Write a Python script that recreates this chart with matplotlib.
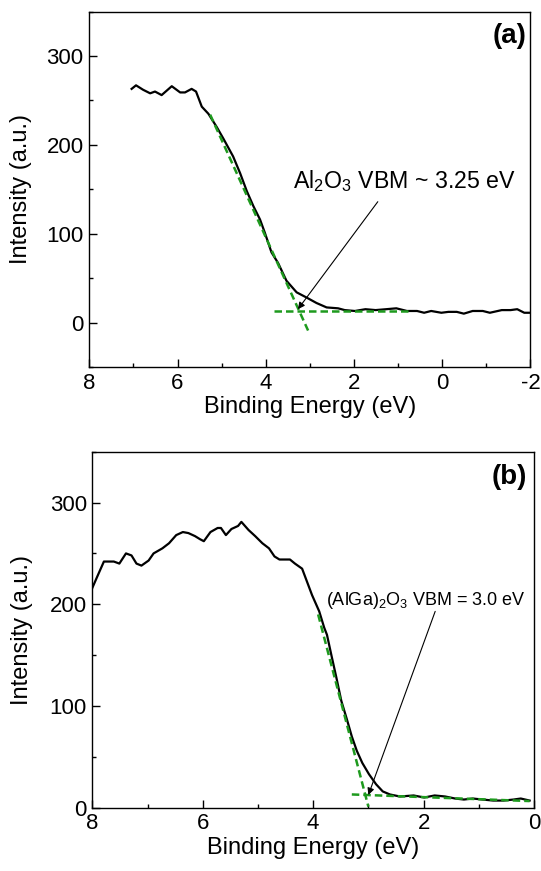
import numpy as np
import matplotlib
matplotlib.use("Agg")
import matplotlib.pyplot as plt
from matplotlib.ticker import MultipleLocator

plt.rcParams['font.family'] = ['Liberation Sans', 'DejaVu Sans']
plt.rcParams['mathtext.fontset'] = 'custom'
plt.rcParams['mathtext.rm'] = 'Liberation Sans'
plt.rcParams['mathtext.it'] = 'Liberation Sans'
plt.rcParams['axes.unicode_minus'] = False

# panel (a) - Al2O3 valence band spectrum
xa = [7.04, 6.94, 6.78, 6.62, 6.51, 6.36, 6.13, 5.94, 5.83, 5.68, 5.58, 5.45, 5.30, 5.11, 4.96,
      4.74, 4.58, 4.43, 4.28, 4.13, 4.02, 3.87, 3.72, 3.53, 3.30, 3.07, 2.85, 2.62, 2.36, 2.21,
      1.98, 1.74, 1.51, 1.27, 1.04, 0.80, 0.57, 0.41, 0.25, 0.02, -0.14, -0.33, -0.49, -0.69,
      -0.92, -1.08, -1.35, -1.55, -1.70, -1.86, -2.0]
ya = [263, 267, 262, 258, 260, 256, 266, 259, 259, 263, 260, 243, 235, 220, 207,
      187, 168, 148, 131, 116, 101, 79, 67, 47, 34, 28, 22, 17, 16, 14,
      13, 15, 14, 15, 16, 13, 13, 11, 13, 11, 12, 12, 10, 13,
      13, 11, 14, 14, 15, 11, 11]
# linear fits (a)
fit_a_slope_x = [5.26, 3.04]
fit_a_slope_y = [234, -9]
fit_a_base_x = [3.81, 0.68]
fit_a_base_y = [13, 13]

# panel (b) - (AlGa)2O3 valence band spectrum
xb = [8.0, 7.92, 7.79, 7.61, 7.51, 7.39, 7.29, 7.20, 7.11, 6.98, 6.89, 6.73, 6.61, 6.48, 6.36,
      6.26, 6.14, 6.05, 5.98, 5.86, 5.73, 5.67, 5.58, 5.48, 5.36, 5.30, 5.17, 5.05, 4.92, 4.80,
      4.70, 4.61, 4.42, 4.33, 4.20, 4.11, 4.02, 3.89, 3.80, 3.75, 3.67, 3.58, 3.49, 3.39, 3.30,
      3.21, 3.11, 2.99, 2.86, 2.74, 2.61, 2.43, 2.18, 1.99, 1.80, 1.61, 1.43, 1.27, 1.11, 0.93,
      0.74, 0.55, 0.37, 0.24, 0.08]
yb = [216, 226, 242, 242, 240, 250, 248, 240, 238, 243, 250, 255, 260, 268, 271,
      270, 267, 264, 262, 271, 275, 275, 268, 274, 277, 281, 273, 267, 260, 255,
      247, 244, 244, 240, 235, 222, 209, 193, 177, 170, 150, 128, 105, 87, 70,
      56, 44, 33, 23, 16, 13, 11, 12, 10, 12, 11, 9, 8, 9, 8,
      7, 7, 8, 9, 7]
fit_b_slope_x = [3.91, 3.0]
fit_b_slope_y = [190, 1]
fit_b_base_x = [3.30, 0.08]
fit_b_base_y = [13, 6.5]

green = '#1e9a1e'
fs_tick = 16
fs_lab = 17

fig = plt.figure(figsize=(5.41, 8.71), dpi=100)
ax1 = fig.add_axes([0.165, 0.5787, 0.8155, 0.408])
ax2 = fig.add_axes([0.1706, 0.0727, 0.8165, 0.4087])

def style(ax):
    for s in ax.spines.values():
        s.set_linewidth(1.0)
    ax.tick_params(which='both', direction='in', top=False, right=False,
                   labelsize=fs_tick, width=1.0, pad=4)
    ax.tick_params(which='major', length=6)
    ax.tick_params(which='minor', length=3)
    ax.xaxis.set_major_locator(MultipleLocator(2))
    ax.xaxis.set_minor_locator(MultipleLocator(1))
    ax.yaxis.set_major_locator(MultipleLocator(100))
    ax.yaxis.set_minor_locator(MultipleLocator(50))
    ax.set_xlabel('Binding Energy (eV)', fontsize=fs_lab, labelpad=2)
    ax.set_ylabel('Intensity (a.u.)', fontsize=fs_lab)

arrow = dict(arrowstyle='-|>', color='k', lw=0.8, mutation_scale=10, shrinkA=0, shrinkB=0)

# (a)
ax1.plot(xa, ya, color='k', lw=1.6, zorder=2)
ax1.plot(fit_a_slope_x, fit_a_slope_y, color=green, lw=1.8, dashes=(3, 1.6), zorder=3)
ax1.plot(fit_a_base_x, fit_a_base_y, color=green, lw=1.8, dashes=(3, 1.6), zorder=3)
ax1.set_xlim(8, -2)
ax1.set_ylim(-50, 350)
style(ax1)
ax1.yaxis.set_label_coords(-0.13, 0.5)
ax1.text(3.38, 159, 'Al$_2$O$_3$ VBM ~ 3.25 eV', fontsize=16.7, va='center', ha='left')
ax1.annotate('', xy=(3.27, 15), xytext=(1.46, 136), arrowprops=arrow)
ax1.text(0.99, 0.93, '(a)', transform=ax1.transAxes, fontsize=20, fontweight='bold',
         ha='right', va='center')

# (b)
ax2.plot(xb, yb, color='k', lw=1.6, zorder=2)
ax2.plot(fit_b_slope_x, fit_b_slope_y, color=green, lw=1.8, dashes=(3, 1.6), zorder=3)
ax2.plot(fit_b_base_x, fit_b_base_y, color=green, lw=1.8, dashes=(3, 1.6), zorder=3)
ax2.set_xlim(8, 0)
ax2.set_ylim(0, 350)
style(ax2)
ax2.yaxis.set_label_coords(-0.135, 0.5)
ax2.text(3.77, 204, '(AlGa)$_2$O$_3$ VBM = 3.0 eV', fontsize=13.0, va='center', ha='left')
ax2.annotate('', xy=(3.0, 12.5), xytext=(1.79, 193), arrowprops=arrow)
ax2.text(0.985, 0.929, '(b)', transform=ax2.transAxes, fontsize=20, fontweight='bold',
         ha='right', va='center')

fig.savefig('out.png', dpi=100)
